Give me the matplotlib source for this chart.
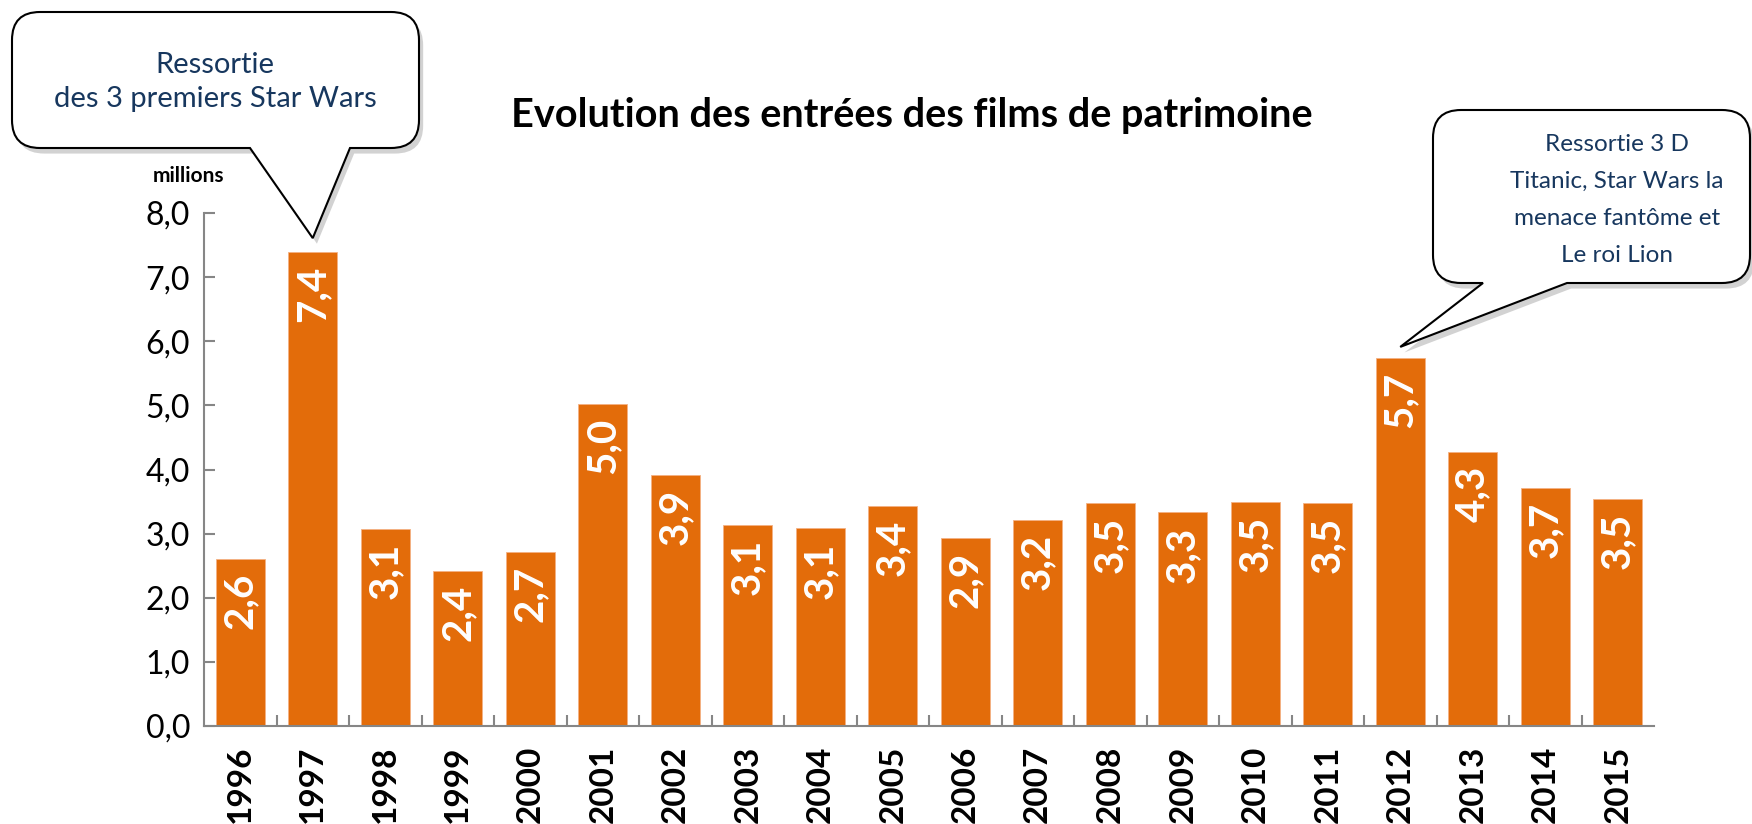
import matplotlib
matplotlib.use("Agg")
import matplotlib.pyplot as plt
from matplotlib.path import Path
from matplotlib.patches import PathPatch
import matplotlib.patheffects as pe

years = ["1996", "1997", "1998", "1999", "2000", "2001", "2002", "2003", "2004", "2005",
         "2006", "2007", "2008", "2009", "2010", "2011", "2012", "2013", "2014", "2015"]
entrees = [2.61, 7.39, 3.07, 2.42, 2.72, 5.02, 3.92, 3.14, 3.08, 3.43,
           2.93, 3.22, 3.48, 3.33, 3.50, 3.48, 5.74, 4.28, 3.71, 3.54]
yticks = [0, 1, 2, 3, 4, 5, 6, 7, 8]

title = "Evolution des entrées des films de patrimoine"
note_1997 = "Ressortie\ndes 3 premiers Star Wars"
note_2012 = "Ressortie 3 D\nTitanic, Star Wars la\nmenace fantôme et\nLe roi Lion"

orange = "#E36C0A"
navy = "#17375E"
grey = "#868686"
W, H = 1752, 824

plt.rcParams['font.family'] = ['Lato', 'DejaVu Sans']

fig = plt.figure(figsize=(W / 100, H / 100), dpi=100)
ax = fig.add_axes([204 / W, 98 / H, 1450 / W, 513 / H])

x = list(range(len(years)))
ax.bar(x, entrees, width=0.67, color=orange, edgecolor="#F4B183", linewidth=0.6, zorder=2)
ax.set_xlim(-0.5, len(years) - 0.5)
ax.set_ylim(0, 8)

# value labels inside the bars
for i, v in zip(x, entrees):
    ax.annotate(f"{v:.1f}".replace(".", ","), (i, v), xytext=(0, -14),
                textcoords="offset pixels", rotation=90, ha="center", va="top",
                color="white", fontsize=29, fontweight="bold", zorder=3)

ax.set_yticks(yticks)
ax.set_yticklabels([f"{t:.1f}".replace(".", ",") for t in yticks], fontsize=23)
ax.set_xticks(x)
ax.set_xticklabels(years, rotation=90, fontsize=24, fontweight="bold")
ax.set_xticks([i + 0.5 for i in x[:-1]], minor=True)
ax.tick_params(axis="x", which="major", length=0, pad=14)
ax.tick_params(axis="x", which="minor", direction="in", length=8, width=1.5, color=grey)
ax.tick_params(axis="y", direction="in", length=8, width=1.5, color=grey, pad=10)
for s in ["top", "right"]:
    ax.spines[s].set_visible(False)
for s in ["left", "bottom"]:
    ax.spines[s].set_color(grey)
    ax.spines[s].set_linewidth(1.5)

fig.text(912 / W, 1 - 115 / H, title, ha="center", va="center",
         fontsize=28.5, fontweight="bold")
fig.text(188 / W, 1 - 176 / H, "millions", ha="center", va="center",
         fontsize=15, fontweight="bold")


def bubble(x0, x1, ytop, ybot, r, ta, tb, tip):
    # coordinates in figure pixels, image style (y down)
    def p(px, py):
        return (px / W, 1 - py / H)
    verts = [p(x0 + r, ytop), p(x1 - r, ytop), p(x1, ytop), p(x1, ytop + r),
             p(x1, ybot - r), p(x1, ybot), p(x1 - r, ybot),
             p(tb, ybot), tip, p(ta, ybot),
             p(x0 + r, ybot), p(x0, ybot), p(x0, ybot - r),
             p(x0, ytop + r), p(x0, ytop), p(x0 + r, ytop), p(x0 + r, ytop)]
    codes = [Path.MOVETO, Path.LINETO, Path.CURVE3, Path.CURVE3,
             Path.LINETO, Path.CURVE3, Path.CURVE3,
             Path.LINETO, Path.LINETO, Path.LINETO,
             Path.LINETO, Path.CURVE3, Path.CURVE3,
             Path.LINETO, Path.CURVE3, Path.CURVE3, Path.CLOSEPOLY]
    patch = PathPatch(Path(verts, codes), transform=fig.transFigure,
                      facecolor="white", edgecolor="black", linewidth=1.5)
    patch.set_path_effects([pe.SimplePatchShadow(offset=(3, -4), alpha=0.25), pe.Normal()])
    fig.add_artist(patch)


def tip_of(i, gap):
    px, py = ax.transData.transform((i, entrees[i]))
    return fig.transFigure.inverted().transform((px, py + gap))


bubble(12, 419, 12, 148, 28, 250, 350, tip_of(1, 14))
fig.text(215 / W, 1 - 82 / H, note_1997, ha="center", va="center", color=navy,
         fontsize=21, linespacing=1.4)

bubble(1433, 1750, 110, 283, 28, 1483, 1567, tip_of(16, 11))
fig.text(1617 / W, 1 - 200 / H, note_2012, ha="center", va="center", color=navy,
         fontsize=17.5, linespacing=1.95)

fig.savefig("out.png", dpi=100)
